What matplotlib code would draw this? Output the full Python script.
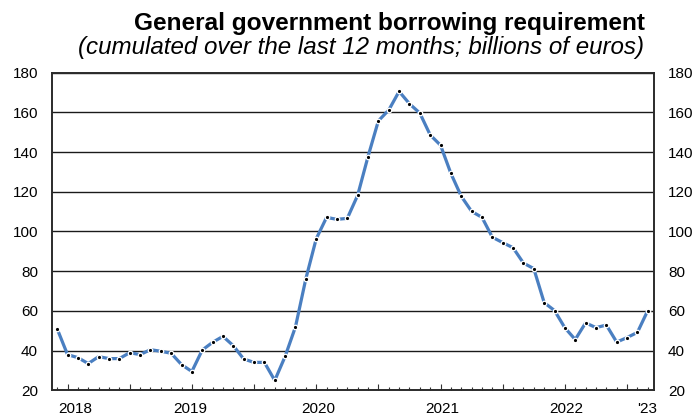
import matplotlib
matplotlib.use("Agg")
import matplotlib.pyplot as plt
import matplotlib.transforms as mtransforms
import numpy as np

plt.rcParams['font.family'] = ['Liberation Sans', 'DejaVu Sans']

# Monthly series, June 2018 - March 2023 (billions of euros, 12-month cumulated)
start_month = "2018-06"
borrowing = [
    51.0, 38.0, 36.5, 33.5, 37.0, 36.0, 36.0, 39.0, 38.0, 40.5,
    39.7, 38.7, 33.0, 29.5, 40.3, 44.2, 47.2, 42.5, 35.8, 34.1,
    34.1, 25.0, 37.1, 52.0, 76.2, 96.3, 107.1, 106.1, 106.6, 118.2,
    137.7, 155.7, 161.1, 170.5, 164.3, 159.6, 148.6, 143.4, 129.2, 117.7,
    110.1, 107.1, 97.1, 94.4, 91.8, 84.1, 81.3, 64.2, 60.2, 51.5,
    45.6, 54.0, 51.6, 52.9, 44.3, 46.6, 49.2, 60.2,
]
year_labels = ["2018", "2019", "2020", "2021", "2022", "'23"]
year_label_pos = [1.7, 12.8, 25.2, 37.2, 49.1, 56.9]
y_ticks = [20, 40, 60, 80, 100, 120, 140, 160, 180]

x = np.arange(len(borrowing))

fig = plt.figure(figsize=(6.95, 4.17), dpi=100)
ax = fig.add_axes([0.0748, 0.0638, 0.8662, 0.7622])

ax.plot(x, borrowing, color="#4a7fc1", lw=2.3, solid_capstyle="butt",
        marker="o", ms=3.2, mfc="black", mec="white", mew=0.9, zorder=3)

ax.set_xlim(-0.5, 57.6)
ax.set_ylim(20, 180)
ax.set_yticks(y_ticks)
ax.yaxis.grid(True, color="#1a1a1a", lw=1.0)
ax.set_axisbelow(True)

# month ticks, longer every half-year (January / July)
ax.set_xticks(np.arange(1, len(borrowing), 6))
ax.set_xticks(x, minor=True)
ax.tick_params(axis="x", which="major", direction="in", length=4.5, width=0.8,
               color="#333333", labelbottom=False)
ax.tick_params(axis="x", which="minor", direction="in", length=2.2, width=0.8,
               color="#333333")
ax.tick_params(axis="y", which="both", length=0, labelsize=11, pad=10,
               labelleft=True, labelright=True, right=False)
for lab in ax.get_yticklabels():
    lab.set_color("black")

for s in ax.spines.values():
    s.set_color("#2b2b2b")
    s.set_linewidth(1.4)

trans = mtransforms.blended_transform_factory(ax.transData, ax.transAxes)
for pos, lab in zip(year_label_pos, year_labels):
    ax.text(pos, -0.058, lab, transform=trans, ha="center", va="center",
            fontsize=11)

fig.text(0.928, 0.943, "General government borrowing requirement",
         ha="right", va="center", fontsize=17.6, fontweight="bold")
fig.text(0.926, 0.885, "(cumulated over the last 12 months; billions of euros)",
         ha="right", va="center", fontsize=17.4, style="italic")

fig.savefig("out.png", dpi=100)
